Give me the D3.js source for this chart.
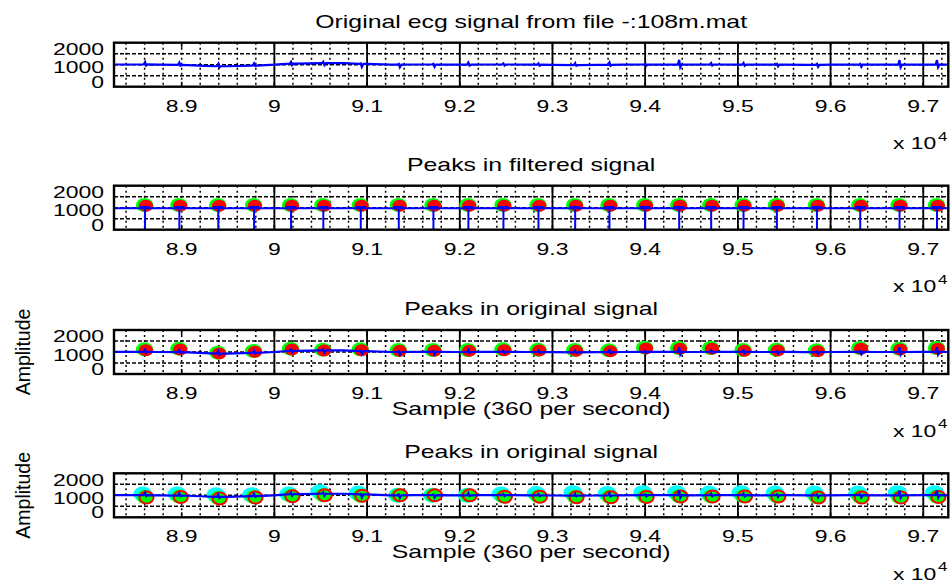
<!DOCTYPE html>
<html>
<head>
<meta charset="utf-8">
<script src="https://cdn.jsdelivr.net/npm/d3@7"></script>
<style>
  body { margin: 0; background: #fff; }
  text { font-family: "Liberation Sans", Arial, sans-serif; fill: #000; }
</style>
</head>
<body>
<svg width="951" height="581"></svg>
<script>
// ---- data ----
var titles = ["Original ecg signal from file -:108m.mat", "Peaks in filtered signal",
              "Peaks in original signal", "Peaks in original signal"];
var xTicks = [89000, 90000, 91000, 92000, 93000, 94000, 95000, 96000, 97000];
var xTickLabels = ["8.9", "9", "9.1", "9.2", "9.3", "9.4", "9.5", "9.6", "9.7"];
var yTicks = [0, 1000, 2000];
var yTickLabels = ["0", "1000", "2000"];

// detected R peaks (sample index)
var peaks = [88605, 88975, 89395, 89781, 90180, 90528, 90932, 91342, 91716, 92093, 92471, 92849,
             93245, 93615, 94000, 94367, 94712, 95061, 95421, 95853, 96320, 96744, 97148];
var filtPeakVals = [1100, 1100, 1100, 1100, 1100, 1100, 1100, 1100, 1100, 1100, 1100, 1100,
                    1100, 1100, 1100, 1100, 1100, 1100, 1100, 1100, 1100, 1100, 1100];
var origPeakVals = [1097, 1129, 948, 1020, 1129, 1083, 1097, 1065, 1065, 1065, 1097, 1083,
                    1065, 1052, 1174, 1160, 1160, 1065, 1083, 1052, 1160, 1129, 1160];
// bottom panel: three detectors
var cyanPeaks = [88580, 88950, 89370, 89755, 90155, 90490, 90905, 91330, 91705, 92080, 92445, 92825,
                 93220, 93590, 93975, 94340, 94690, 95035, 95400, 95825, 96295, 96720, 97120];
var cyanVals = [1060, 1060, 1020, 1020, 1060, 1160, 1100, 1000, 1000, 1000, 1060, 1080,
                1120, 1080, 1120, 1120, 1100, 1120, 1100, 1100, 1100, 1120, 1120];
var greenVals = [920, 940, 880, 920, 980, 1000, 980, 1000, 1000, 1000, 950, 950,
                 930, 930, 940, 960, 950, 960, 960, 920, 930, 920, 940];
var redVals = [900, 920, 860, 900, 960, 1000, 980, 1000, 1000, 1000, 930, 930,
               910, 910, 920, 940, 940, 950, 950, 900, 900, 900, 920];

// ecg baseline and small QRS blips
var baseSamples = [88250, 88500, 88750, 89000, 89250, 89500, 89750, 90000, 90250, 90500, 90750, 91000,
                   91250, 91500, 91750, 92000, 92250, 92500, 92750, 93000, 93250, 93500, 93750, 94000,
                   94250, 94500, 94750, 95000, 95250, 95500, 95750, 96000, 96250, 96500, 96750, 97000, 97300];
var baseVals = [1010, 1010, 1000, 990, 945, 930, 960, 1000, 1050, 1070, 1070, 1040,
                1000, 1010, 1010, 1000, 1010, 1010, 1000, 990, 985, 990, 1000, 1010,
                1005, 1000, 1010, 1005, 1000, 1005, 995, 1000, 1005, 1000, 1000, 1005, 1000];
var qrsHi = [1120, 1100, 1040, 1060, 1130, 1130, 1060, 1040, 1040, 1100, 1060, 1060,
             1070, 1100, 1080, 1220, 1080, 1080, 1040, 1040, 1040, 1210, 1210];
var qrsLo = [960, 960, 880, 940, 980, 980, 900, 880, 900, 960, 960, 960,
             950, 950, 950, 880, 960, 950, 920, 900, 900, 880, 880];
var filtLevel = [980];
var filtCap = [1030];

// ---- layout ----
var svg = d3.select("svg");
var left = 114, right = 948.3, ph = 44;
var tops = [42.7, 185.7, 330, 473.3];
var sx = 1.35;   // picture is stretched horizontally

var x = d3.scaleLinear().domain([88270, 97270]).range([left, right]);

// build the raw signal from baseline + blips
function nearestBase(s) {
  var best = 0;
  baseSamples.forEach(function(b, i) { if (Math.abs(b - s) < Math.abs(baseSamples[best] - s)) best = i; });
  return baseVals[best];
}
var ecg = baseSamples.map(function(s, i) { return [s, baseVals[i]]; });
peaks.forEach(function(p, i) {
  var b = nearestBase(p);
  ecg.push([p - 15, b], [p, qrsHi[i]], [p + 12, qrsLo[i]], [p + 28, b]);
});
ecg.sort(function(a, b) { return a[0] - b[0]; });

function htext(g, tx, ty, s, size, anchor) {
  return g.append("text")
    .attr("transform", "translate(" + tx + "," + ty + ") scale(" + sx + ",1)")
    .attr("text-anchor", anchor)
    .style("font-size", size + "px")
    .text(s);
}

function drawPanel(k) {
  var top = tops[k], bot = top + ph;
  var y = d3.scaleLinear().domain([0, 2000]).range([bot, top]);
  var g = svg.append("g");

  g.append("clipPath").attr("id", "clip" + k)
    .append("rect").attr("x", left).attr("y", top).attr("width", right - left).attr("height", ph);

  // minor grid
  var minorX = d3.range(88400, 97271, 200);
  g.selectAll(".gx").data(minorX).enter().append("line")
    .attr("x1", function(d) { return x(d); }).attr("x2", function(d) { return x(d); })
    .attr("y1", top).attr("y2", bot)
    .attr("stroke", "#000").attr("stroke-width", 1.5).attr("stroke-dasharray", "2,3");
  g.selectAll(".gy").data([500, 1000, 1500]).enter().append("line")
    .attr("x1", left).attr("x2", right)
    .attr("y1", function(d) { return y(d); }).attr("y2", function(d) { return y(d); })
    .attr("stroke", "#000").attr("stroke-width", 1.5).attr("stroke-dasharray", "4,2");
  // major grid (renders solid in the picture except the first)
  g.selectAll(".mx").data(xTicks.slice(1)).enter().append("line")
    .attr("x1", function(d) { return x(d); }).attr("x2", function(d) { return x(d); })
    .attr("y1", top).attr("y2", bot)
    .attr("stroke", "#000").attr("stroke-width", 1.8);
  // tick marks
  g.selectAll(".tk").data(xTicks).enter().append("path")
    .attr("d", function(d) { return "M" + x(d) + "," + top + "v5M" + x(d) + "," + bot + "v-5"; })
    .attr("stroke", "#000").attr("stroke-width", 1.5);

  var body = g.append("g").attr("clip-path", "url(#clip" + k + ")");
  var line = d3.line().x(function(d) { return x(d[0]); }).y(function(d) { return y(d[1]); });

  if (k === 1) {
    peaks.forEach(function(p, i) {
      body.append("ellipse").attr("cx", x(p) - 0.5).attr("cy", y(filtPeakVals[i]) - 0.5)
        .attr("rx", 8.7).attr("ry", 7).attr("fill", "#00ff00");
      body.append("ellipse").attr("cx", x(p) + 0.8).attr("cy", y(filtPeakVals[i]) + 0.3)
        .attr("rx", 7.2).attr("ry", 6).attr("fill", "#ff0000");
    });
    body.append("line").attr("x1", left).attr("x2", right)
      .attr("y1", y(filtLevel[0])).attr("y2", y(filtLevel[0]))
      .attr("stroke", "#0000ff").attr("stroke-width", 2);
    body.selectAll(".stem").data(peaks).enter().append("path")
      .attr("d", function(p) {
        return "M" + (x(p) - 5) + "," + y(filtCap[0]) + "H" + (x(p) + 5) +
               "M" + x(p) + "," + y(filtCap[0]) + "V" + y(-100);
      })
      .attr("fill", "none").attr("stroke", "#0000ff").attr("stroke-width", 2);
  }
  if (k === 2) {
    peaks.forEach(function(p, i) {
      body.append("ellipse").attr("cx", x(p) - 0.5).attr("cy", y(origPeakVals[i]) - 0.5)
        .attr("rx", 8.7).attr("ry", 7).attr("fill", "#00ff00");
      body.append("ellipse").attr("cx", x(p) + 0.8).attr("cy", y(origPeakVals[i]) + 0.3)
        .attr("rx", 7.2).attr("ry", 6).attr("fill", "#ff0000");
    });
  }
  if (k === 3) {
    cyanPeaks.forEach(function(p, i) {
      body.append("ellipse").attr("cx", x(p)).attr("cy", y(cyanVals[i]))
        .attr("rx", 9.5).attr("ry", 7.5).attr("fill", "#00ffff");
    });
    peaks.forEach(function(p, i) {
      body.append("ellipse").attr("cx", x(p)).attr("cy", y(greenVals[i]))
        .attr("rx", 8.5).attr("ry", 7).attr("fill", "#00ff00");
    });
    peaks.forEach(function(p, i) {
      body.append("ellipse").attr("cx", x(p) + 1.5).attr("cy", y(redVals[i]))
        .attr("rx", 7).attr("ry", 6).attr("fill", "none")
        .attr("stroke", "#ff0000").attr("stroke-width", 2);
    });
  }
  if (k !== 1) {
    body.append("path").datum(ecg).attr("d", line)
      .attr("fill", "none").attr("stroke", "#0000ff").attr("stroke-width", 2.2);
  }

  // box
  g.append("rect").attr("x", left).attr("y", top).attr("width", right - left).attr("height", ph)
    .attr("fill", "none").attr("stroke", "#000").attr("stroke-width", 2.4);

  // labels
  htext(g, (left + right) / 2, top - 15, titles[k], 18.4, "middle");
  xTicks.forEach(function(t, i) { htext(g, x(t), bot + 25, xTickLabels[i], 17, "middle"); });
  var yOff = [0.8, 8.5, 12.3];
  yTicks.forEach(function(t, i) {
    var yy = (i === 0 ? bot : i === 1 ? y(t) : top) + yOff[i];
    htext(g, 104, yy, yTickLabels[i], 17, "end");
  });
  htext(g, 893, bot + 62.7, "x 10", 17, "start");
  htext(g, 938, bot + 54, "4", 12.5, "start");
  if (k >= 2) {
    htext(g, (left + right) / 2, bot + 41, "Sample (360 per second)", 18.4, "middle");
    g.append("text").attr("transform", "translate(30," + (top + ph / 2) + ") rotate(-90)")
      .attr("text-anchor", "middle").style("font-size", "19.5px").text("Amplitude");
  }
}

[0, 1, 2, 3].forEach(drawPanel);
</script>
</body>
</html>
